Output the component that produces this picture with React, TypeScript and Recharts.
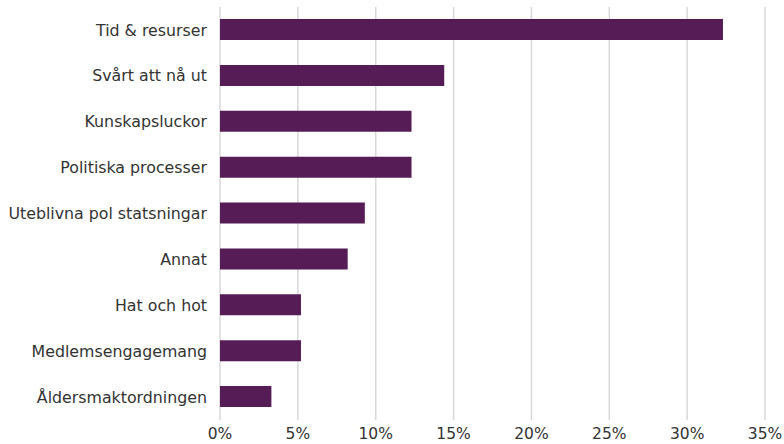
import { BarChart, Bar, XAxis, YAxis, CartesianGrid } from 'recharts';

const categories = [
  'Tid & resurser',
  'Svårt att nå ut',
  'Kunskapsluckor',
  'Politiska processer',
  'Uteblivna pol statsningar',
  'Annat',
  'Hat och hot',
  'Medlemsengagemang',
  'Åldersmaktordningen',
];

const shares = [32.3, 14.4, 12.3, 12.3, 9.3, 8.2, 5.2, 5.2, 3.3];

const xTicks = [0, 5, 10, 15, 20, 25, 30, 35];

const data = categories.map((name, i) => ({ name, value: shares[i] }));

const font = '"DejaVu Sans", sans-serif';

export default function App() {
  return (
    <div style={{ position: 'absolute', left: 0, top: 0, background: '#fff' }}>
      <BarChart
        width={784}
        height={444}
        data={data}
        layout="vertical"
        margin={{ top: 7, right: 19, bottom: 0, left: 0 }}
      >
        <CartesianGrid horizontal={false} stroke="#d9d9d9" strokeWidth={1.5} />
        <XAxis
          type="number"
          domain={[0, 35]}
          ticks={xTicks}
          tickFormatter={(v) => `${v}%`}
          axisLine={false}
          tickLine={false}
          tickSize={0}
          tickMargin={8}
          height={24}
          interval={0}
          tick={{ fill: '#333', fontSize: 15.5, fontFamily: font }}
        />
        <YAxis
          type="category"
          dataKey="name"
          width={220}
          axisLine={false}
          tickLine={false}
          tickSize={0}
          tickMargin={13}
          interval={0}
          tick={{ fill: '#333', fontSize: 15.8, fontFamily: font }}
        />
        <Bar dataKey="value" fill="#561c56" barSize={21} isAnimationActive={false} />
      </BarChart>
    </div>
  );
}
